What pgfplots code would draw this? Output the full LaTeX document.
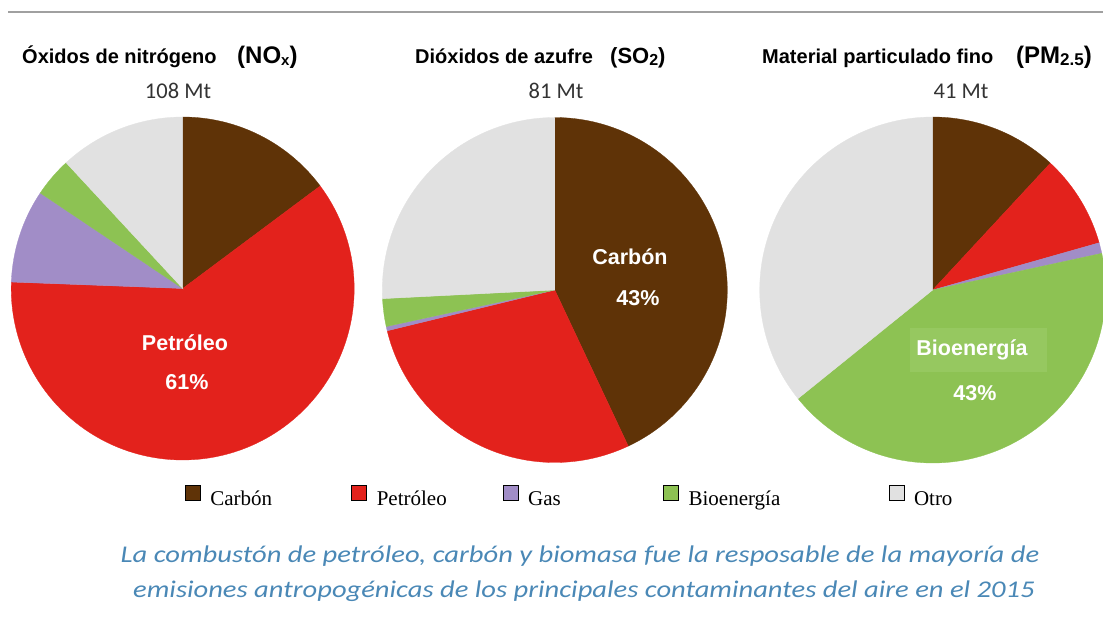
\documentclass[border=0pt]{standalone}
\usepackage{pgfplots}
\pgfplotsset{compat=1.18}
\usepackage{pgfplotstable}
\usepackage{fontspec}
\setmainfont{Liberation Sans}
\newfontfamily\calib{Carlito}
\newfontfamily\legfont{Liberation Serif}

\definecolor{pc0}{HTML}{5F3307}
\definecolor{pc1}{HTML}{E3221C}
\definecolor{pc2}{HTML}{A18DC7}
\definecolor{pc3}{HTML}{8DC253}
\definecolor{pc4}{HTML}{E1E1E1}
\definecolor{capblue}{HTML}{4A88B6}
\definecolor{biobox}{HTML}{96C860}
\definecolor{topline}{HTML}{A0A0A0}

% shares (%) of each source, clockwise from 12 o'clock
\pgfplotstableread{
fuente pct
Carbon 14.8
Petroleo 60.8
Gas 8.8
Bioenergia 3.7
Otro 11.9
}\noxdata
\pgfplotstableread{
fuente pct
Carbon 43.0
Petroleo 28.2
Gas 0.4
Bioenergia 2.6
Otro 25.8
}\sodata
\pgfplotstableread{
fuente pct
Carbon 11.9
Petroleo 8.7
Gas 1.0
Bioenergia 42.6
Otro 35.8
}\pmdata

\newcommand\pieslices[1]{%
  \pgfmathsetmacro\cumpct{0}%
  \pgfplotsforeachungrouped \i in {0,...,4}{%
    \pgfplotstablegetelem{\i}{pct}\of{#1}%
    \pgfmathsetmacro\angstart{90-3.6*\cumpct}%
    \pgfmathsetmacro\cumpct{\cumpct+\pgfplotsretval}%
    \pgfmathsetmacro\angend{90-3.6*\cumpct}%
    \edef\doslice{\noexpand\addplot[fill=pc\i, draw=pc\i, line width=0.3pt, domain=\angend:\angstart, samples=120, forget plot] ({cos(x)},{sin(x)}) -- (axis cs:0,0) -- cycle;}%
    \doslice
  }%
}

\pgfplotsset{pie/.style={width=#1, height=#1, scale only axis, xmin=-1, xmax=1, ymin=-1, ymax=1, hide axis, clip=false, anchor=center}}

\newcommand\sub[2]{{\raisebox{-2.5pt}{\fontsize{#1}{#1}\selectfont #2}}}

\begin{document}
\begin{tikzpicture}
\useasboundingbox (0pt,0pt) rectangle (1103pt,622pt);

\begin{axis}[pie=343pt, at={(182.7pt,333.5pt)}]
\pieslices{\noxdata}
\end{axis}
\begin{axis}[pie=345pt, at={(554.8pt,332pt)}]
\pieslices{\sodata}
\end{axis}
\begin{axis}[pie=346pt, at={(932.7pt,332pt)}]
\pieslices{\pmdata}
\end{axis}

\begin{axis}[at={(0pt,0pt)}, anchor=south west, width=1103pt, height=622pt, scale only axis,
  xmin=0, xmax=1103, ymin=0, ymax=622, y dir=reverse, hide axis, clip=false,
  legend image code/.code={\fill[#1] (0pt,-1pt) rectangle (15pt,14pt);},
  legend cell align=left,
  legend style={draw=none, fill=none, at={(axis cs:185,496)}, anchor=west, legend columns=-1,
    inner sep=0pt, outer sep=0pt,
    nodes={inner sep=0pt, font=\legfont\fontsize{21}{24}\selectfont},
    /tikz/every odd column/.append style={column sep=10pt},
    /tikz/every even column/.append style={column sep=0pt}}]
\addplot[forget plot, color=topline, line width=1.1pt] coordinates {(8,12) (1103,12)};
\addlegendimage{fill=pc0}\addlegendentry{\makebox[141pt][l]{Carbón}}
\addlegendimage{fill=pc1}\addlegendentry{\makebox[126pt][l]{Petróleo}}
\addlegendimage{fill=pc2}\addlegendentry{\makebox[135pt][l]{Gas}}
\addlegendimage{fill=pc3}\addlegendentry{\makebox[200pt][l]{Bioenergía}}
\addlegendimage{fill=pc4}\addlegendentry{Otro}

% titles
\node[anchor=base west, inner sep=0pt, font=\bfseries\fontsize{20}{22}\selectfont] at (axis cs:22,63)
  {Óxidos de nitrógeno};
\node[anchor=base west, inner sep=0pt, font=\bfseries\fontsize{24}{26}\selectfont] at (axis cs:237,63)
  {(NO\sub{15}{x})};
\node[anchor=base west, inner sep=0pt, font=\bfseries\fontsize{20}{22}\selectfont] at (axis cs:415,63)
  {Dióxidos de azufre};
\node[anchor=base west, inner sep=0pt, font=\bfseries\fontsize{22}{24}\selectfont] at (axis cs:610,63)
  {(SO\sub{16}{2})};
\node[anchor=base west, inner sep=0pt, font=\bfseries\fontsize{20}{22}\selectfont] at (axis cs:762,63)
  {Material particulado fino};
\node[anchor=base west, inner sep=0pt, font=\bfseries\fontsize{24}{26}\selectfont] at (axis cs:1016,63)
  {(PM\sub{17}{2.5})};
% totals
\node[anchor=base, font=\calib\fontsize{22.5}{24}\selectfont, text=black!80] at (axis cs:178,98) {108 Mt};
\node[anchor=base, font=\calib\fontsize{22.5}{24}\selectfont, text=black!80] at (axis cs:556,98) {81 Mt};
\node[anchor=base, font=\calib\fontsize{22.5}{24}\selectfont, text=black!80] at (axis cs:961,98) {41 Mt};

% labels on the pies
\node[font=\bfseries\fontsize{21.5}{24}\selectfont, text=white] at (axis cs:185,343) {Petróleo};
\node[font=\bfseries\fontsize{21.5}{24}\selectfont, text=white] at (axis cs:187,382) {61\%};
\node[font=\bfseries\fontsize{21.5}{24}\selectfont, text=white] at (axis cs:630,257) {Carbón};
\node[font=\bfseries\fontsize{21.5}{24}\selectfont, text=white] at (axis cs:638,298) {43\%};
\node[fill=biobox, minimum width=137pt, minimum height=44pt, inner sep=0pt] at (axis cs:978.5,350) {};
\node[font=\bfseries\fontsize{21.5}{24}\selectfont, text=white] at (axis cs:972,350) {Bioenergía};
\node[font=\bfseries\fontsize{21.5}{24}\selectfont, text=white] at (axis cs:975,393) {43\%};

% caption
\node[anchor=base, font=\calib\itshape\fontsize{24}{26}\selectfont, text=capblue] at (axis cs:580,562)
  {\scalebox{1.19}[1]{La combustón de petróleo, carbón y biomasa fue la resposable de la mayoría de}};
\node[anchor=base, font=\calib\itshape\fontsize{24}{26}\selectfont, text=capblue] at (axis cs:584,597)
  {\scalebox{1.19}[1]{emisiones antropogénicas de los principales contaminantes del aire en el 2015}};
\end{axis}
\end{tikzpicture}
\end{document}
